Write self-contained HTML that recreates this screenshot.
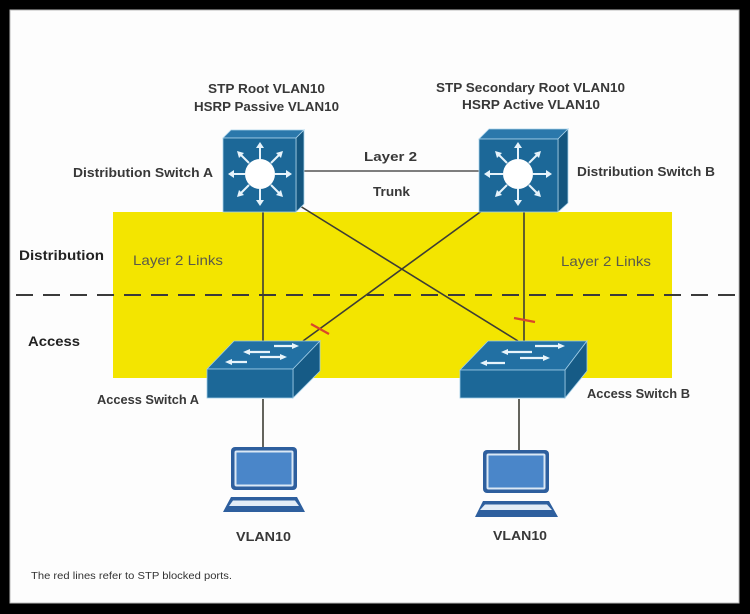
<!DOCTYPE html>
<html><head><meta charset="utf-8">
<style>
html,body{margin:0;padding:0;background:#000;}
svg{display:block;}
text{font-family:"Liberation Sans",Arial,sans-serif;}
</style></head>
<body>
<svg width="750" height="614" viewBox="0 0 750 614" xmlns="http://www.w3.org/2000/svg">
  <rect x="0" y="0" width="750" height="614" fill="#000"/>
  <rect x="10" y="10" width="729" height="593" fill="#fdfdfd" stroke="#bbb" stroke-width="1"/>

  <!-- yellow region -->
  <rect x="113" y="212" width="559" height="166" fill="#f3e500"/>

  <!-- dashed line -->
  <line x1="16" y1="295" x2="736" y2="295" stroke="#3a3a3a" stroke-width="2" stroke-dasharray="17 10"/>

  <!-- links -->
  <g stroke="#3d3d35" stroke-width="1.6" fill="none">
    <line x1="304" y1="171" x2="479" y2="171" stroke="#555" stroke-width="1.4"/>
    <line x1="263" y1="212" x2="263" y2="342"/>
    <line x1="263" y1="399" x2="263" y2="448"/>
    <line x1="524" y1="212" x2="524" y2="343"/>
    <line x1="519" y1="399" x2="519" y2="450"/>
    <line x1="300" y1="206" x2="518" y2="341"/>
    <line x1="483" y1="210" x2="303" y2="341"/>
  </g>

  <!-- red blocked marks -->
  <line x1="311" y1="324" x2="329" y2="334" stroke="#d9462a" stroke-width="2.2"/>
  <line x1="514" y1="318" x2="535" y2="322" stroke="#d9462a" stroke-width="2.2"/>

  <!-- Distribution Switch A -->
  <g>
    <polygon points="223,138 231,130 304,130 296,138" fill="#2b78ab" stroke="#a8d2ea" stroke-width="0.8"/>
    <polygon points="296,138 304,130 304,204 296,212" fill="#14567f" stroke="#a8d2ea" stroke-width="0.8"/>
    <rect x="223" y="138" width="73" height="74" fill="#1c6898" stroke="#a8d2ea" stroke-width="0.8"/>
    <circle cx="260" cy="174" r="15" fill="#fff"/>
    <g stroke="#e6f3fb" stroke-width="2" fill="#e6f3fb">
      <line x1="260" y1="159" x2="260" y2="146"/><polygon points="260,142 256,148 264,148" stroke="none"/>
      <line x1="260" y1="189" x2="260" y2="202"/><polygon points="260,206 256,200 264,200" stroke="none"/>
      <line x1="245" y1="174" x2="232" y2="174"/><polygon points="228,174 234,170 234,178" stroke="none"/>
      <line x1="275" y1="174" x2="288" y2="174"/><polygon points="292,174 286,170 286,178" stroke="none"/>
      <line x1="271" y1="163" x2="280" y2="154"/><polygon points="283,151 276,153 281,158" stroke="none"/>
      <line x1="249" y1="163" x2="240" y2="154"/><polygon points="237,151 244,153 239,158" stroke="none"/>
      <line x1="271" y1="185" x2="280" y2="194"/><polygon points="283,197 276,195 281,190" stroke="none"/>
      <line x1="249" y1="185" x2="240" y2="194"/><polygon points="237,197 244,195 239,190" stroke="none"/>
    </g>
  </g>

  <!-- Distribution Switch B -->
  <g>
    <polygon points="479,139 489,129 568,129 558,139" fill="#2b78ab" stroke="#a8d2ea" stroke-width="0.8"/>
    <polygon points="558,139 568,129 568,203 558,212" fill="#14567f" stroke="#a8d2ea" stroke-width="0.8"/>
    <rect x="479" y="139" width="79" height="73" fill="#1c6898" stroke="#a8d2ea" stroke-width="0.8"/>
    <circle cx="518" cy="174" r="15" fill="#fff"/>
    <g stroke="#e6f3fb" stroke-width="2" fill="#e6f3fb">
      <line x1="518" y1="159" x2="518" y2="146"/><polygon points="518,142 514,148 522,148" stroke="none"/>
      <line x1="518" y1="189" x2="518" y2="202"/><polygon points="518,206 514,200 522,200" stroke="none"/>
      <line x1="503" y1="174" x2="488" y2="174"/><polygon points="484,174 490,170 490,178" stroke="none"/>
      <line x1="533" y1="174" x2="548" y2="174"/><polygon points="552,174 546,170 546,178" stroke="none"/>
      <line x1="529" y1="163" x2="538" y2="154"/><polygon points="541,151 534,153 539,158" stroke="none"/>
      <line x1="507" y1="163" x2="498" y2="154"/><polygon points="495,151 502,153 497,158" stroke="none"/>
      <line x1="529" y1="185" x2="538" y2="194"/><polygon points="541,197 534,195 539,190" stroke="none"/>
      <line x1="507" y1="185" x2="498" y2="194"/><polygon points="495,197 502,195 497,190" stroke="none"/>
    </g>
  </g>

  <!-- Access Switch A -->
  <g>
    <polygon points="207,369 234,341 320,341 293,369" fill="#2270a3" stroke="#9fcde8" stroke-width="0.8"/>
    <polygon points="293,369 320,341 320,371 293,398" fill="#165b86" stroke="#9fcde8" stroke-width="0.8"/>
    <rect x="207" y="369" width="86" height="29" fill="#1c6898" stroke="#9fcde8" stroke-width="0.8"/>
    <g stroke="#e8f4fb" stroke-width="2.2" fill="#e8f4fb">
      <line x1="248" y1="352" x2="270" y2="352"/><polygon points="243,352 250,349 250,355" stroke="none"/>
      <line x1="274" y1="346" x2="294" y2="346"/><polygon points="299,346 292,343 292,349" stroke="none"/>
      <line x1="230" y1="362" x2="247" y2="362"/><polygon points="225,362 232,359 232,365" stroke="none"/>
      <line x1="260" y1="357" x2="282" y2="357"/><polygon points="287,357 280,354 280,360" stroke="none"/>
    </g>
  </g>

  <!-- Access Switch B -->
  <g>
    <polygon points="460,370 488,341 587,341 565,370" fill="#2270a3" stroke="#9fcde8" stroke-width="0.8"/>
    <polygon points="565,370 587,341 587,371 565,398" fill="#165b86" stroke="#9fcde8" stroke-width="0.8"/>
    <rect x="460" y="370" width="105" height="28" fill="#1c6898" stroke="#9fcde8" stroke-width="0.8"/>
    <g stroke="#e8f4fb" stroke-width="2.2" fill="#e8f4fb">
      <line x1="506" y1="352" x2="532" y2="352"/><polygon points="501,352 508,349 508,355" stroke="none"/>
      <line x1="535" y1="346" x2="560" y2="346"/><polygon points="565,346 558,343 558,349" stroke="none"/>
      <line x1="485" y1="363" x2="505" y2="363"/><polygon points="480,363 487,360 487,366" stroke="none"/>
      <line x1="520" y1="358" x2="545" y2="358"/><polygon points="550,358 543,355 543,361" stroke="none"/>
    </g>
  </g>

  <!-- Laptop A -->
  <g>
    <rect x="231" y="447" width="66" height="43" rx="4" fill="#2e5f9e"/>
    <rect x="234.5" y="450.5" width="59" height="36" rx="2" fill="#dbe8f5"/>
    <rect x="236.5" y="452.5" width="55" height="32" fill="#4a86c9"/>
    <polygon points="231,497 297,497 305,512 223,512" fill="#2e5f9e"/>
    <polygon points="233,500.5 295,500.5 299,506 229,506" fill="#e3ecf6"/>
  </g>

  <!-- Laptop B -->
  <g>
    <rect x="483" y="450" width="66" height="43" rx="4" fill="#2e5f9e"/>
    <rect x="486.5" y="453.5" width="59" height="36" rx="2" fill="#dbe8f5"/>
    <rect x="488.5" y="455.5" width="55" height="32" fill="#4a86c9"/>
    <polygon points="483,501 549,501 558,517 475,517" fill="#2e5f9e"/>
    <polygon points="485,504.5 547,504.5 552,510 480,510" fill="#e3ecf6"/>
  </g>

  <!-- Labels -->
  <g fill="#383838" font-size="13" font-weight="bold">
    <text x="208" y="93" textLength="117" lengthAdjust="spacingAndGlyphs">STP Root VLAN10</text>
    <text x="194" y="111" textLength="145" lengthAdjust="spacingAndGlyphs">HSRP Passive VLAN10</text>
    <text x="436" y="92" textLength="189" lengthAdjust="spacingAndGlyphs">STP Secondary Root VLAN10</text>
    <text x="462" y="109" textLength="138" lengthAdjust="spacingAndGlyphs">HSRP Active VLAN10</text>
    <text x="73" y="177" textLength="140" lengthAdjust="spacingAndGlyphs">Distribution Switch A</text>
    <text x="577" y="176" textLength="138" lengthAdjust="spacingAndGlyphs">Distribution Switch B</text>
    <text x="364" y="161" textLength="53" lengthAdjust="spacingAndGlyphs">Layer 2</text>
    <text x="373" y="196" textLength="37" lengthAdjust="spacingAndGlyphs">Trunk</text>
    <text x="97" y="404" textLength="102" lengthAdjust="spacingAndGlyphs">Access Switch A</text>
    <text x="587" y="398" textLength="103" lengthAdjust="spacingAndGlyphs">Access Switch B</text>
    <text x="236" y="541" textLength="55" lengthAdjust="spacingAndGlyphs">VLAN10</text>
    <text x="493" y="540" textLength="54" lengthAdjust="spacingAndGlyphs">VLAN10</text>
  </g>
  <g fill="#222" font-size="14" font-weight="bold">
    <text x="19" y="260" textLength="85" lengthAdjust="spacingAndGlyphs">Distribution</text>
    <text x="28" y="346" textLength="52" lengthAdjust="spacingAndGlyphs">Access</text>
  </g>
  <g fill="#5a5a4a" font-size="14">
    <text x="133" y="265" textLength="90" lengthAdjust="spacingAndGlyphs">Layer 2 Links</text>
    <text x="561" y="266" textLength="90" lengthAdjust="spacingAndGlyphs">Layer 2 Links</text>
  </g>
  <text x="31" y="579" font-size="10" fill="#333" textLength="201" lengthAdjust="spacingAndGlyphs">The red lines refer to STP blocked ports.</text>
</svg>
</body></html>
